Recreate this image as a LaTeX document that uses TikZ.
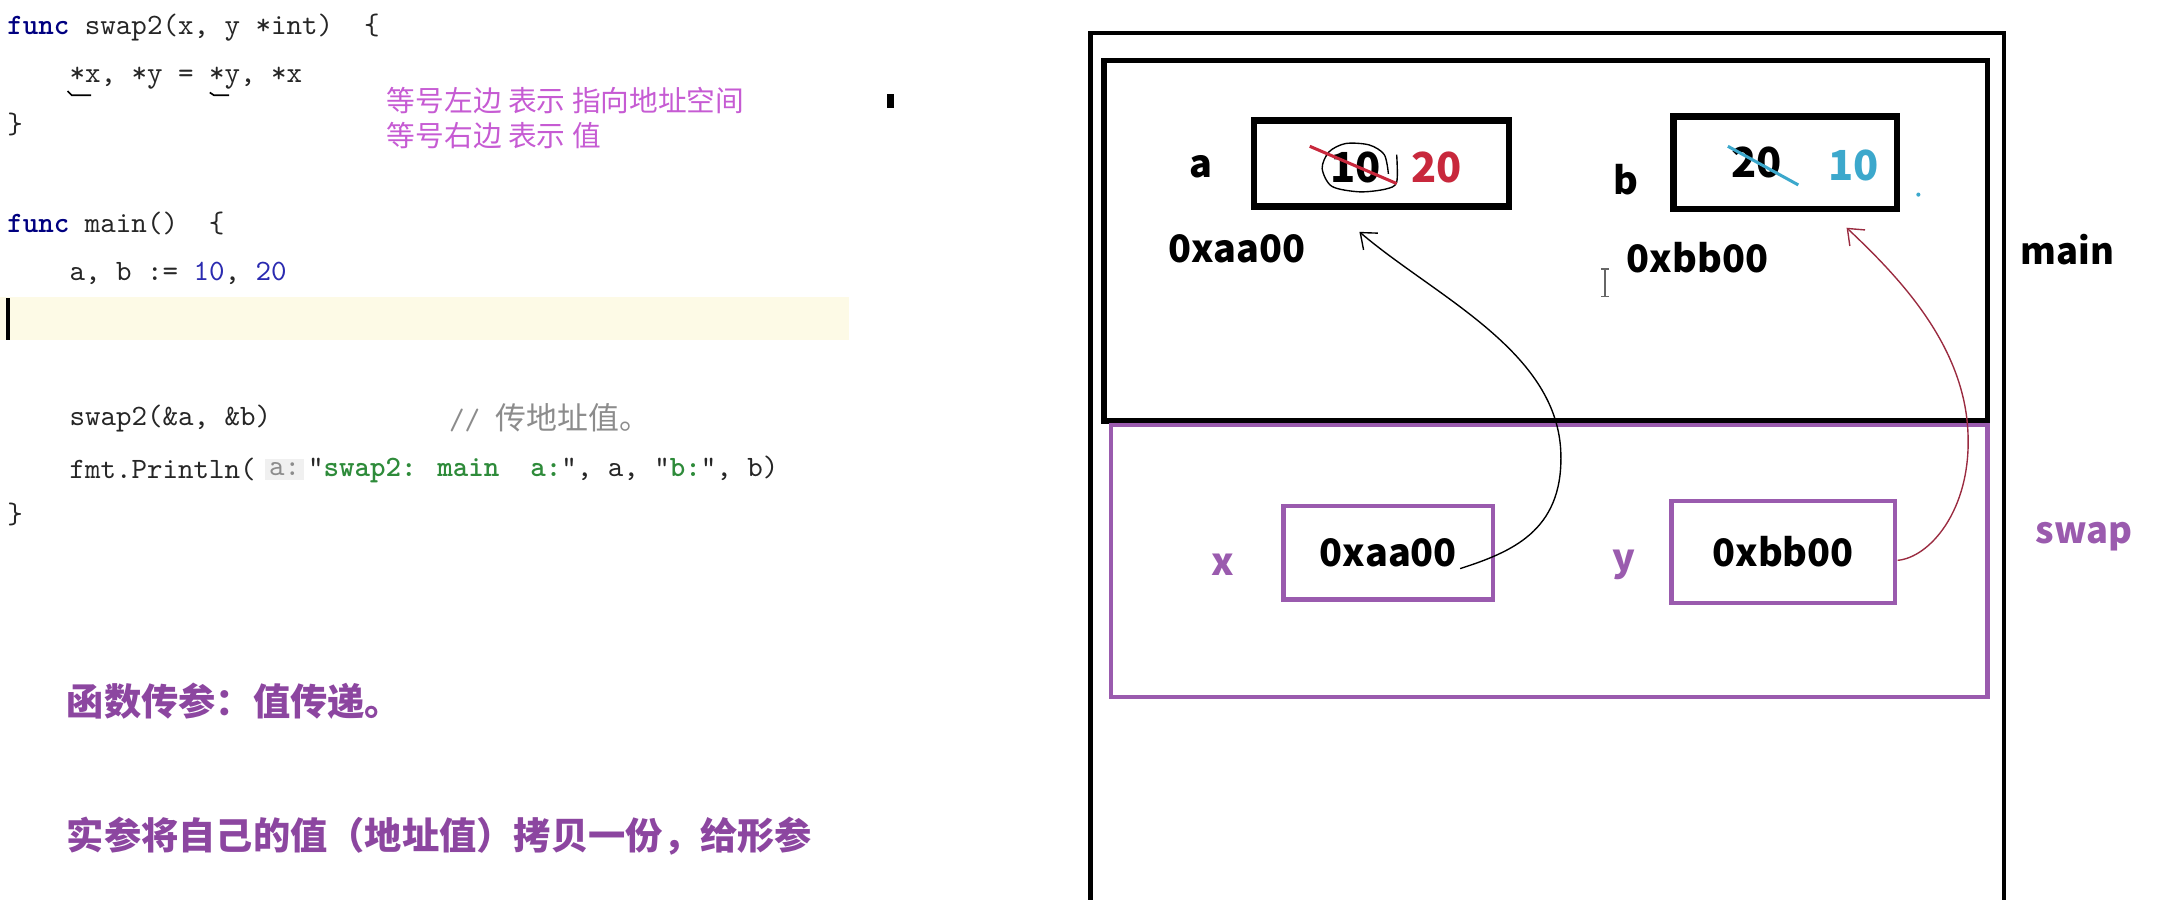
\documentclass[tikz,border=0pt]{standalone}
\usepackage{fontspec}
\newfontfamily\cjk{Noto Sans CJK SC}
\usetikzlibrary{arrows.meta, positioning}

\definecolor{keyblue}{HTML}{000080}
\definecolor{numblue}{HTML}{2A2AB0}
\definecolor{strgreen}{HTML}{2E8B3A}
\definecolor{notepink}{HTML}{C65BD3}
\definecolor{framepurple}{HTML}{9A5BAE}
\definecolor{tippurple}{HTML}{8C46A0}
\definecolor{newred}{HTML}{C8283C}
\definecolor{newcyan}{HTML}{3CA8CC}
\definecolor{linkred}{HTML}{9A2B40}
\definecolor{curline}{HTML}{FDFAE6}

\begin{document}
\begin{tikzpicture}[
        x = 0.5pt, y = -0.5pt,
        >= {Straight Barb[length = 5pt, width = 8pt]},
        code/.style = {anchor = west, inner sep = 0pt, font = \fontsize{10.7}{12}\ttfamily, text = black!85},
        note/.style = {anchor = west, inner sep = 0pt, font = \fontsize{10.4}{12}\cjk, text = notepink},
        remark/.style = {anchor = west, inner sep = 0pt, font = \fontsize{13.5}{16}\cjk\bfseries, text = tippurple},
        tag/.style = {inner sep = 0pt, font = \fontsize{13.7}{16}\cjk\bfseries},
        digit/.style = {inner sep = 0pt, font = \fontsize{15}{17}\cjk\bfseries},
        frametag/.style = {inner sep = 0pt, font = \fontsize{13.2}{16}\cjk\bfseries},
        cell/.style = {draw = black, line width = 2.4pt, inner sep = 0pt},
        slot/.style = {draw = framepurple, line width = 1.6pt, inner sep = 0pt, font = \fontsize{13.7}{16}\cjk\bfseries}
    ]
      \useasboundingbox (0,0) rectangle (1568,652);

      % code on the left
      \fill[curline] (0,215) rectangle (615,246);
      \fill[black] (4,216) rectangle (7,246);
      \node[code] (l1) at (5,20) {\textcolor{keyblue}{\bfseries func} swap2(x, y *int)\ \ \{};
      \node[code] (l2) at (50,57) {*x, *y = *y, *x};
      \node[code] (l3) at (5,90) {\}};
      \node[code] (l4) at (5,162) {\textcolor{keyblue}{\bfseries func} main()\ \ \{};
      \node[code] (l5) at (50,198) {a, b := \textcolor{numblue}{10}, \textcolor{numblue}{20}};
      \node[code] (l6) at (50,303) {swap2(\&a, \&b)};
      \node[code, text = black!45] (cmt) at (325,303) {// {\cjk\fontsize{11.2}{12}\selectfont 传地址值。}};
      \node[code] (l7) at (50,340) {fmt.Println(};
      \node[code, fill = black!6, text = black!45, inner sep = 1.5pt, right = 3pt of l7] (hint) {a:};
      \node[code, right = 1pt of hint] (l7b) {"\textcolor{strgreen}{\bfseries swap2: main\ \ a:}", a, "\textcolor{strgreen}{\bfseries b:}", b)};
      \node[code] (l8) at (5,373) {\}};
      \draw[black, line width = 0.6pt] (49,66) -- (52,69) -- (66,69);
      \draw[black, line width = 0.6pt] (152,67) -- (155,69) -- (166,69);

      \node[note] (n1) at (280,73) {等号左边 表示 指向地址空间};
      \node[note] (n2) at (280,98) {等号右边 表示 值};
      \fill[black] (643,68) rectangle (648,78);

      \node[remark] (r1) at (48,508) {函数传参：值传递。};
      \node[remark] (r2) at (48,606) {实参将自己的值（地址值）拷贝一份，给形参};

      % memory on the right
      \draw[line width = 1.6pt] (790,660) -- (790,24) -- (1452,24) -- (1452,660);
      \draw[line width = 2pt] (800,44) rectangle (1440,305);
      \draw[framepurple, line width = 1.6pt] (805,308) rectangle (1440,505);

      \node[cell, minimum width = 92.5pt, minimum height = 31pt] (boxa) at (1001,118.5) {};
      \node[cell, minimum width = 81pt, minimum height = 33.5pt] (boxb) at (1293.5,118) {};
      \node[digit] (olda) at (982,121) {10};
      \node[digit, text = newred] (newa) at (1041,121) {20};
      \node[digit] (oldb) at (1273,118) {20};
      \node[digit, text = newcyan] (newb) at (1343,120) {10};
      \draw[black, line width = 0.5pt] plot[smooth] coordinates {(1012,112) (1012,132) (1004,137) (985,139) (965,135) (958,122) (963,110) (975,104) (992,105) (1003,112) (1006,126)};
      \draw[newred, line width = 1.1pt] (949,106) -- (1012,133);
      \draw[newcyan, line width = 1.1pt] (1252,106) -- (1303,134);
      \fill[newcyan] (1390,141) circle (1.5);

      \node[tag] (laba) at (870,121) {a};
      \node[tag] (labb) at (1178,130) {b};
      \node[tag] (adra) at (896,180) {0xaa00};
      \node[tag] (adrb) at (1230,187) {0xbb00};
      \node[frametag] (mainlab) at (1498,181) {main};
      \draw[black!60, line width = 0.5pt] (1160,195) -- (1166,195) (1163,195) -- (1163,215) (1160,215) -- (1166,215);

      \node[slot, minimum width = 76pt, minimum height = 34pt] (boxx) at (1006,400.5) {0xaa00};
      \node[slot, minimum width = 81pt, minimum height = 37pt] (boxy) at (1292,400) {0xbb00};
      \node[tag, text = framepurple] (labx) at (886,409) {x};
      \node[tag, text = framepurple] (laby) at (1177,409) {y};
      \node[frametag, text = framepurple] (swaplab) at (1510,389) {swap};

      % pointers back to main
      \coordinate (xstart) at (1058,412);
      \coordinate (atip) at (985,168);
      \coordinate (ystart) at (1375,406);
      \coordinate (btip) at (1338,165);
      \draw[->, line width = 0.5pt] (xstart) .. controls (1095,400) and (1132,385) .. (1131,330)
            .. controls (1130,255) and (1040,215) .. (atip);
      \draw[->, linkred, line width = 0.5pt] (ystart) .. controls (1398,404) and (1428,370) .. (1426,315)
            .. controls (1424,250) and (1375,200) .. (btip);
    \end{tikzpicture}
\end{document}
